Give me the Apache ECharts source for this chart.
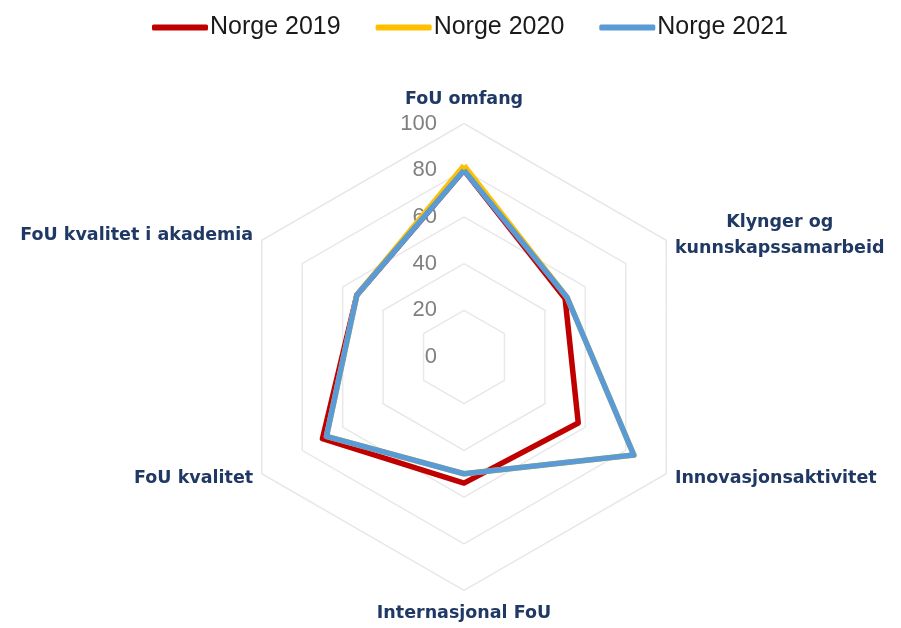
<!DOCTYPE html>
<html>
<head>
<meta charset="utf-8">
<style>
html,body{margin:0;padding:0;background:#fff;}
#chart{width:901px;height:628px;}
</style>
<script src="https://cdn.jsdelivr.net/npm/echarts@6/dist/echarts.min.js"></script>
</head>
<body>
<div id="chart"></div>
<script>
// Indicators listed counter-clockwise from the top (ECharts radar order)
const indicators = ['FoU omfang', 'FoU kvalitet i akademia', 'FoU kvalitet', 'Internasjonal FoU', 'Innovasjonsaktivitet', 'Klynger og\nkunnskapssamarbeid'];
const seriesNames = ['Norge 2019', 'Norge 2020', 'Norge 2021'];
const norge2019 = [80, 53, 70, 54, 56.5, 50];
const norge2020 = [82, 53, 68, 50, 84, 51];
const norge2021 = [80, 53, 68, 50, 84, 51];
const colors = ['#C00000', '#FFC000', '#5B9BD5'];
const axisMax = 100;

const chart = echarts.init(document.getElementById('chart'));
const nameColor = '#1F3864';
chart.setOption({
  animation: false,
  backgroundColor: '#ffffff',
  color: colors,
  legend: {
    top: 10,
    left: 147,
    icon: 'roundRect',
    itemWidth: 56,
    itemHeight: 6,
    itemGap: 35,
    textStyle: { fontFamily: 'Liberation Sans', fontSize: 25, color: '#1a1a1a', padding: [0, 0, 0, -3] },
    data: seriesNames
  },
  radar: {
    center: [464, 357],
    radius: 233.5,
    startAngle: 90,
    splitNumber: 5,
    shape: 'polygon',
    nameGap: 10,
    axisName: {
      color: nameColor,
      fontFamily: 'DejaVu Sans',
      fontWeight: 'bold',
      fontSize: 17.5,
      lineHeight: 26,
      formatter: function (v) {
        if (v.indexOf('\n') >= 0) {
          const parts = v.split('\n');
          return '{c|' + parts[0] + '}\n{c|' + parts[1] + '}';
        }
        return v;
      },
      rich: {
        c: { align: 'center', color: nameColor, fontFamily: 'DejaVu Sans', fontWeight: 'bold', fontSize: 17.5, lineHeight: 26 }
      }
    },
    axisLine: { show: false },
    axisTick: { show: false },
    splitArea: { show: false },
    splitLine: { lineStyle: { color: '#E8E8E8', width: 1.5 } },
    axisLabel: { show: false },
    indicator: indicators.map(function (n, i) {
      const o = { name: n, min: 0, max: axisMax };
      if (i === 0) {
        o.axisLabel = { show: true, color: '#808080', fontFamily: 'Liberation Sans', fontSize: 22, margin: 27 };
      }
      return o;
    })
  },
  series: [{
    type: 'radar',
    symbol: 'none',
    data: [
      { name: seriesNames[0], value: norge2019, lineStyle: { color: colors[0], width: 5.5 }, itemStyle: { color: colors[0] } },
      { name: seriesNames[1], value: norge2020, lineStyle: { color: colors[1], width: 5.5 }, itemStyle: { color: colors[1] } },
      { name: seriesNames[2], value: norge2021, lineStyle: { color: colors[2], width: 5.5 }, itemStyle: { color: colors[2] } }
    ]
  }]
});
</script>
</body>
</html>
